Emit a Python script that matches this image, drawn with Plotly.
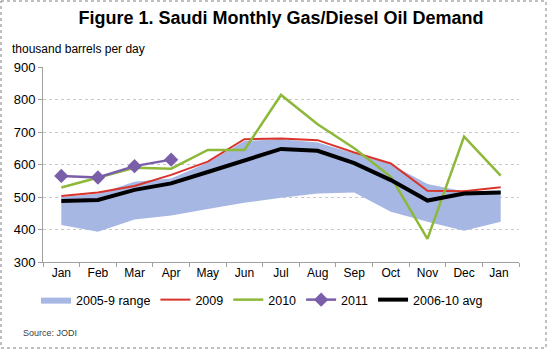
import plotly.graph_objects as go

months = ["Jan", "Feb", "Mar", "Apr", "May", "Jun", "Jul", "Aug", "Sep", "Oct", "Nov", "Dec", "Jan "]
range_low = [414, 393, 431, 443, 463, 482, 498, 511, 514, 455, 424, 396, 424]
range_high = [500, 510, 547, 557, 606, 672, 678, 668, 634, 601, 540, 517, 520]
y2009 = [503, 514, 534, 568, 609, 678, 680, 675, 637, 603, 519, 518, 530]
y2010 = [529, 560, 590, 587, 645, 645, 814, 724, 650, 562, 371, 686, 566]
y2011 = [565, 560, 595, 615]
avg = [488, 491, 522, 542, 577, 614, 648, 642, 604, 552, 489, 511, 514]

L, R, T, B = 43, 519, 67, 262
W, H = 551, 350

def px_x(p):
    return (p - L) / (R - L)

def px_y(p):
    return (B - p) / (B - T)

fig = go.Figure()
fig.add_trace(go.Scatter(x=months, y=range_low, mode="lines", line=dict(width=0),
                         showlegend=False, hoverinfo="skip"))
fig.add_trace(go.Scatter(x=months, y=range_high, mode="lines", line=dict(width=0),
                         fill="tonexty", fillcolor="#A7B7E4", name="2005-9 range"))
fig.add_trace(go.Scatter(x=months, y=y2009, mode="lines", line=dict(color="#D9342B", width=2),
                         name="2009"))
fig.add_trace(go.Scatter(x=months, y=y2010, mode="lines", line=dict(color="#8DB83A", width=2.5),
                         name="2010"))
fig.add_trace(go.Scatter(x=months[:4], y=y2011, mode="lines+markers",
                         line=dict(color="#7B5EAA", width=2.5),
                         marker=dict(symbol="diamond", size=11, color="#7B5EAA"),
                         name="2011"))
fig.add_trace(go.Scatter(x=months, y=avg, mode="lines", line=dict(color="#000000", width=4),
                         name="2006-10 avg"))

fig.update_layout(
    width=W, height=H,
    margin=dict(l=L, r=W - R, t=T, b=H - B),
    paper_bgcolor="white", plot_bgcolor="white",
    font=dict(family="Liberation Sans, Arial, sans-serif", color="#000000", size=12),
    title=dict(text="<b>Figure 1. Saudi Monthly Gas/Diesel Oil Demand</b>",
               x=0.5, xref="paper", xanchor="center", y=1 - 18 / H, yanchor="middle",
               font=dict(size=18)),
    showlegend=True,
    legend=dict(orientation="h", x=px_x(262), xanchor="center", y=px_y(300), yanchor="middle",
                font=dict(size=12.5), itemwidth=30, traceorder="normal", bgcolor="rgba(0,0,0,0)"),
    xaxis=dict(type="category", showgrid=False, showline=True, linecolor="#A0A0A0",
               ticks="outside", tickson="boundaries", ticklen=4, tickcolor="#A0A0A0",
               tickfont=dict(size=12), range=[-0.5, 12.5], fixedrange=True),
    yaxis=dict(range=[300, 900], dtick=100, showgrid=True, gridcolor="#C8C8C8", griddash="dot",
               showline=True, linecolor="#A0A0A0", ticks="outside", ticklen=4, tickcolor="#A0A0A0",
               tickfont=dict(size=13), zeroline=False),
    annotations=[
        dict(text="thousand barrels per day", xref="paper", yref="paper", x=px_x(10), y=px_y(49),
             xanchor="left", yanchor="middle", showarrow=False, font=dict(size=12)),
        dict(text="Source: JODI", xref="paper", yref="paper", x=px_x(21), y=px_y(333),
             xanchor="left", yanchor="middle", showarrow=False, font=dict(size=9, color="#404040")),
    ],
    shapes=[
        dict(type="rect", xref="paper", yref="paper", x0=px_x(1), x1=px_x(546), y0=px_y(1), y1=px_y(348),
             line=dict(color="#808080", width=1, dash="dot"), fillcolor="rgba(0,0,0,0)", layer="below"),
    ],
)

fig.write_html("out.html")
